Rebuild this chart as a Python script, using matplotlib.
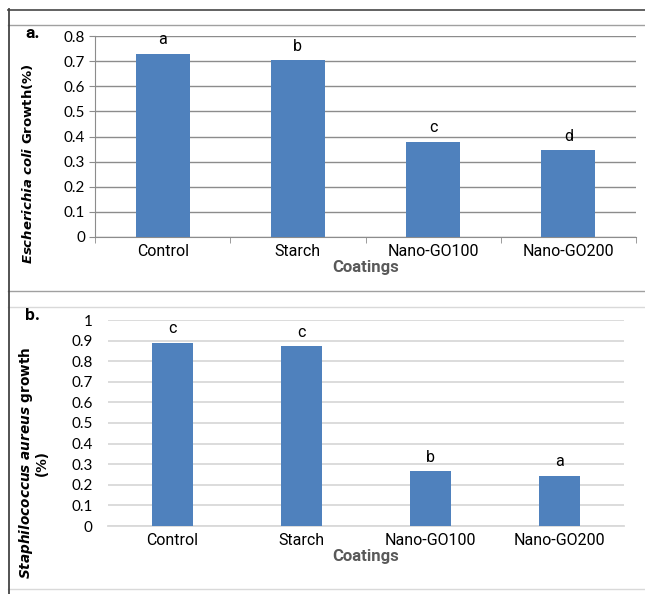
import matplotlib
matplotlib.use('Agg')
import matplotlib.pyplot as plt
from matplotlib.lines import Line2D

# data
coatings = ['Control', 'Starch', 'Nano-GO100', 'Nano-GO200']
ecoli = [0.73, 0.705, 0.38, 0.345]
ecoli_letters = ['a', 'b', 'c', 'd']
saureus = [0.89, 0.875, 0.265, 0.245]
saureus_letters = ['c', 'c', 'b', 'a']
ecoli_ticks = [0, 0.1, 0.2, 0.3, 0.4, 0.5, 0.6, 0.7, 0.8]
saureus_ticks = [0, 0.1, 0.2, 0.3, 0.4, 0.5, 0.6, 0.7, 0.8, 0.9, 1]

W, H = 645, 594
bar_col = '#4F81BD'
cat_font = ['Roboto', 'DejaVu Sans']
num_font = ['Lato', 'DejaVu Sans']
lab_font = ['DejaVu Sans']

plt.rcParams['mathtext.fontset'] = 'custom'
plt.rcParams['mathtext.bfit'] = 'DejaVu Sans:italic:bold'
plt.rcParams['mathtext.it'] = 'DejaVu Sans:italic'
plt.rcParams['mathtext.rm'] = 'DejaVu Sans'

fig = plt.figure(figsize=(W / 100, H / 100), dpi=100)


def box(x0, y0, x1, y1):
    return [x0 / W, 1 - y1 / H, (x1 - x0) / W, (y1 - y0) / H]


def line(x0, y0, x1, y1, c, lw):
    fig.add_artist(Line2D([x0 / W, x1 / W], [1 - y0 / H, 1 - y1 / H],
                          transform=fig.transFigure, color=c, lw=lw))


# frame lines
line(8, 9.5, W, 9.5, '#555555', 1.3)
line(8, 25, W, 25, '#a0a0a0', 1.0)
line(8, 291, W, 291, '#a0a0a0', 1.0)
line(8, 307, W, 307, '#d9d9d9', 1.0)
line(8, 589, W, 589, '#d9d9d9', 1.0)
line(8.5, 9, 8.5, H, '#444444', 1.3)

x = range(len(coatings))

# ---- panel a ----
ax1 = fig.add_axes(box(95, 36, 636, 237))
ax1.bar(x, ecoli, width=0.4, color=bar_col, zorder=3)
ax1.set_xlim(-0.5, 3.5)
ax1.set_ylim(0, 0.8)
ax1.set_yticks(ecoli_ticks)
ax1.set_yticklabels(['{:g}'.format(t) for t in ecoli_ticks], family=num_font, fontsize=11)
ax1.yaxis.grid(True, color='#8c8c8c', lw=1.0, zorder=0)
ax1.set_xticks(list(x))
ax1.set_xticklabels(coatings, family=cat_font, fontsize=11.5)
ax1.set_xticks([-0.5, 0.5, 1.5, 2.5, 3.5], minor=True)
ax1.tick_params(axis='x', which='major', length=0, pad=5)
ax1.tick_params(axis='x', which='minor', length=4, color='#8c8c8c', direction='out')
ax1.tick_params(axis='y', length=4, color='#8c8c8c', direction='out', pad=3)
for s in ['top', 'right']:
    ax1.spines[s].set_visible(False)
ax1.spines['left'].set_color('#8c8c8c')
ax1.spines['bottom'].set_color('#8c8c8c')
for i, (v, l) in enumerate(zip(ecoli, ecoli_letters)):
    ax1.text(i, v + 0.025, l, ha='center', va='bottom', family=cat_font, fontsize=11.5)
ax1.set_xlabel('Coatings', family=cat_font, fontsize=12, fontweight='bold',
               color='#595959', labelpad=1)
yl1 = fig.text(28 / W, 1 - 164 / H, r'$\mathbfit{Escherichia\ coli}$ Growth(%)',
               family=lab_font, fontsize=10.5, fontweight='bold', rotation=90,
               ha='center', va='center')
fig.text(25 / W, 1 - 33 / H, 'a.', family=cat_font, fontsize=12.5, fontweight='bold',
         va='center')

# ---- panel b ----
ax2 = fig.add_axes(box(108, 320, 624, 526))
ax2.bar(x, saureus, width=0.32, color=bar_col, zorder=3)
ax2.set_xlim(-0.5, 3.5)
ax2.set_ylim(0, 1)
ax2.set_yticks(saureus_ticks)
ax2.set_yticklabels(['{:g}'.format(t) for t in saureus_ticks], family=num_font, fontsize=11)
ax2.yaxis.grid(True, color='#d9d9d9', lw=1.3, zorder=0)
ax2.set_xticks(list(x))
ax2.set_xticklabels(coatings, family=cat_font, fontsize=11.5)
ax2.tick_params(axis='both', length=0)
ax2.tick_params(axis='x', pad=5)
ax2.tick_params(axis='y', pad=11)
for s in ['top', 'right', 'left']:
    ax2.spines[s].set_visible(False)
ax2.spines['bottom'].set_color('#d9d9d9')
ax2.spines['bottom'].set_linewidth(1.3)
for i, (v, l) in enumerate(zip(saureus, saureus_letters)):
    ax2.text(i, v + 0.03, l, ha='center', va='bottom', family=cat_font, fontsize=11.5)
ax2.set_xlabel('Coatings', family=cat_font, fontsize=12, fontweight='bold',
               color='#595959', labelpad=1)
yl2 = fig.text(33 / W, 1 - 463 / H, '$\\mathbfit{Staphilococcus\\ aureus}$ growth\n(%)',
               family=lab_font, fontsize=10.5, fontweight='bold', rotation=90,
               linespacing=0.95, ha='center', va='center', multialignment='center')
fig.text(25 / W, 1 - 316 / H, 'b.', family=cat_font, fontsize=12.5, fontweight='bold',
         va='center')

# scale the y labels so their length matches the reference
fig.canvas.draw()
r = fig.canvas.get_renderer()
for lab, target in [(yl1, 202), (yl2, 233)]:
    h = lab.get_window_extent(r).height
    lab.set_fontsize(lab.get_fontsize() * target / h)

fig.savefig('out.png', dpi=100)
